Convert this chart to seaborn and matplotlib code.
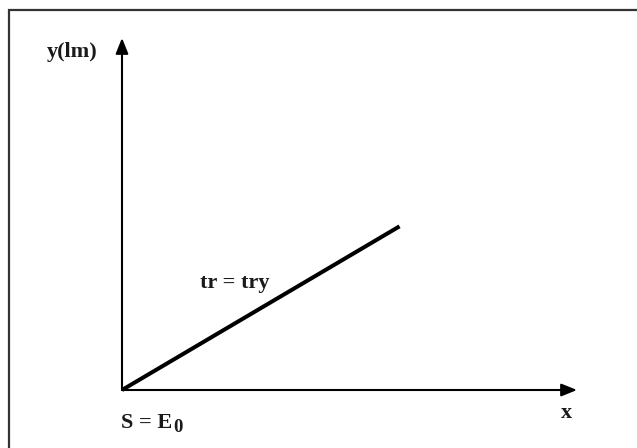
import matplotlib
matplotlib.use("Agg")
import matplotlib.pyplot as plt
import seaborn as sns
import pandas as pd
from matplotlib.patches import Rectangle

# Data (abstract units)
line_x = [0.0, 6.1]
line_y = [0.0, 4.65]
axis_x_end = 10.0
axis_y_end = 10.0
y_label = "y(lm)"
x_label = "x"
line_label = "tr = try"
origin_label = "S = E"
origin_sub = "0"

sns.set_style("white")
plt.rcParams['font.family'] = ['Liberation Serif', 'DejaVu Serif']

W, H = 637, 448
fig = plt.figure(figsize=(W / 100, H / 100), dpi=100)
ax = fig.add_axes([0, 0, 1, 1])

# pixel mapping: origin at (122, 390) px, 45.5 px/unit in x, 35.2 px/unit in y
ox, oy, sx, sy = 122, 390, 45.5, 35.2
ax.set_xlim(-ox / sx, (W - ox) / sx)
ax.set_ylim(-(H - oy) / sy, oy / sy)
ax.axis('off')

# outer frame (only top and left visible)
fig.patches.append(Rectangle((9 / W, -0.2), 1.5, 1 - 10 / H + 0.2,
                             transform=fig.transFigure, fill=False,
                             edgecolor='#333333', linewidth=1.6))

df = pd.DataFrame({"x": line_x, "y": line_y})
sns.lineplot(data=df, x="x", y="y", ax=ax, color='black', linewidth=2.9,
             solid_capstyle='butt')

arrow = dict(arrowstyle='-|>,head_length=0.47,head_width=0.19', lw=1.5,
             color='black', mutation_scale=20, shrinkA=0, shrinkB=0)
ax.annotate('', xy=(axis_x_end, 0), xytext=(0, 0), arrowprops=arrow)
ax.annotate('', xy=(0, axis_y_end), xytext=(0, 0), arrowprops=arrow)

fs = 16
kw = dict(fontsize=fs, fontweight='bold', color='#1a1a1a')
ax.text(-1.1, 9.6, y_label, ha='center', va='center', **kw)
ax.text(9.76, -0.66, x_label, ha='center', va='center', **kw)
ax.text(3.25, 3.04, line_label, ha='right', va='center', **kw)
t = ax.text(-0.02, -0.95, origin_label, ha='left', va='center', **kw)
ax.annotate(origin_sub, xy=(1, 0.3), xycoords=t, xytext=(0.5, 0),
            textcoords='offset points', ha='left', va='center',
            fontsize=13.5, fontweight='bold', color='#1a1a1a')

fig.savefig("out.png", dpi=100)
